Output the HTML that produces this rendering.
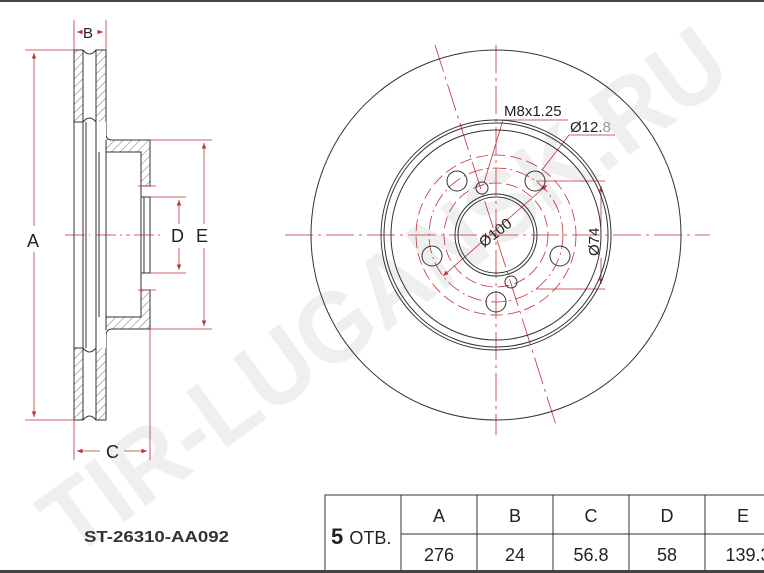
<!DOCTYPE html>
<html><head><meta charset="utf-8"><style>
html,body{margin:0;padding:0;background:#fff}
svg{display:block}
text{font-family:"Liberation Sans",Arial,sans-serif}
</style></head><body>
<svg width="764" height="573" viewBox="0 0 764 573" xmlns="http://www.w3.org/2000/svg">
<defs>
<pattern id="h" patternUnits="userSpaceOnUse" width="6" height="6" patternTransform="rotate(45)">
<rect width="6" height="6" fill="#fff"/><line x1="0" y1="0" x2="0" y2="6" stroke="#555" stroke-width="0.8"/>
</pattern>
<marker id="ar" viewBox="0 0 10 10" refX="10" refY="5" markerWidth="7" markerHeight="7" orient="auto-start-reverse"><path d="M0,1 L10,5 L0,9 z" fill="#c0303a"/></marker>
</defs>
<rect x="0" y="0" width="764" height="2" fill="#444"/>
<!-- watermark -->
<text x="0" y="0" transform="translate(72,560) rotate(-36)" font-size="100" font-weight="bold" fill="#efefef" textLength="820" lengthAdjust="spacingAndGlyphs">TIR-LUGANSK.RU</text>

<!-- side profile -->
<g stroke="#333" stroke-width="1" fill="none">
<rect x="74" y="50" width="9" height="72" fill="url(#h)"/>
<rect x="74" y="348" width="9" height="72" fill="url(#h)"/>
<path d="M96,50 H106 V122 L106,134 Q106,140 112,140 H150 V186 H141 V152 H99 L96,155 Z" fill="url(#h)"/>
<path d="M96,420 H106 V348 L106,336 Q106,329 112,329 H150 V290 H141 V317 H99 L96,314 Z" fill="url(#h)"/>
<rect x="96" y="122" width="10" height="226" fill="#fff" stroke="none"/>
<path d="M96,120 V350 M106,140 V330 M99,152 V317 M83,122 V348 M74,50 V420 M86,122 V348"/>
<path d="M83,50 Q89.5,58 96,50 M83,122 Q89.5,114 96,122 M83,348 Q89.5,356 96,348 M83,420 Q89.5,412 96,420"/>
<path d="M141,186 H150 M141,197 H150 V273 H141 Z M144,197 V273 M141,186 V197 M141,273 V290 M141,290 H150"/>
</g>
<g stroke="#c0303a" stroke-width="0.8" fill="none">
<path d="M74,20 V50 M106,20 V50 M25,50 H74 M25,420 H74 M150,140 H212 M150,329 H212 M150,197 H186 M150,273 H186 M74,420 V460 M150,329 V460 M138,186 H156 M138,290 H156"/>
<path d="M65,235 H90 M96,235 H130 M134,235 H160" stroke-dasharray="20,4,2,4"/>
<line x1="34" y1="53" x2="34" y2="226" marker-start="url(#ar)"/>
<line x1="34" y1="252" x2="34" y2="417" marker-end="url(#ar)"/>
<line x1="204" y1="143" x2="204" y2="224" marker-start="url(#ar)"/>
<line x1="204" y1="248" x2="204" y2="326" marker-end="url(#ar)"/>
<line x1="179" y1="200" x2="179" y2="224" marker-start="url(#ar)"/>
<line x1="179" y1="248" x2="179" y2="270" marker-end="url(#ar)"/>
<line x1="77" y1="32" x2="82" y2="32" marker-start="url(#ar)"/>
<line x1="98" y1="32" x2="103" y2="32" marker-end="url(#ar)"/>
<line x1="77" y1="451" x2="100" y2="451" marker-start="url(#ar)"/>
<line x1="124" y1="451" x2="147" y2="451" marker-end="url(#ar)"/>
</g>
<g font-size="18" fill="#222">
<text x="83" y="38" font-size="15">B</text>
<text x="27" y="247">A</text>
<text x="171" y="242">D</text>
<text x="196" y="242">E</text>
<text x="106" y="458">C</text>
</g>

<!-- front disc -->
<g stroke="#c0303a" stroke-width="0.8" fill="none">
<path d="M285,235 H710" stroke-dasharray="28,5,3,5"/>
<path d="M496,45 V435" stroke-dasharray="28,5,3,5"/>
<line x1="435" y1="45" x2="556" y2="425" stroke-dasharray="28,5,3,5"/>
<circle cx="496" cy="235" r="52" stroke-dasharray="12,5"/>
<circle cx="496" cy="235" r="80" stroke-dasharray="12,5"/>
<circle cx="496" cy="235" r="67" stroke-dasharray="14,4,2,4"/>
<path d="M536,181 H605 M536,289 H605"/>
<line x1="601" y1="186" x2="601" y2="226" marker-start="url(#ar)"/>
<line x1="601" y1="258" x2="601" y2="284" marker-end="url(#ar)"/>
<line x1="547" y1="185" x2="443" y2="276" marker-start="url(#ar)" marker-end="url(#ar)"/>
<path d="M503,120 H568 M503,120 L484,183" />
<path d="M569,135 H615 M569,135 L542,170"/>
</g>
<g stroke="#333" stroke-width="1" fill="none">
<circle cx="496" cy="235" r="185"/>
<circle cx="496" cy="235" r="115"/>
<circle cx="496" cy="235" r="112"/>
<circle cx="496" cy="235" r="105"/>
<circle cx="496" cy="235" r="41"/>
<circle cx="496" cy="235" r="38"/>
<circle cx="457" cy="181" r="10"/>
<circle cx="535" cy="181" r="10"/>
<circle cx="432" cy="256" r="10"/>
<circle cx="560" cy="256" r="10"/>
<circle cx="496" cy="302" r="10"/>
<circle cx="482" cy="188" r="6"/>
<circle cx="511" cy="282" r="6"/>
</g>
<g fill="#222" font-size="15">
<text x="504" y="116">M8x1.25</text>
<text x="570" y="132">Ø12.<tspan fill="#999">8</tspan></text>
<text x="0" y="0" transform="translate(484,248) rotate(-38)">Ø100</text>
<text x="0" y="0" transform="translate(599,256) rotate(-90)">Ø74</text>
</g>

<!-- part number -->
<text x="84" y="542" font-size="16" font-weight="bold" fill="#333" textLength="145" lengthAdjust="spacingAndGlyphs">ST-26310-AA092</text>

<!-- table -->
<g stroke="#333" stroke-width="1" fill="none">
<path d="M325,572 V495 H764 M401,495 V572 M477,495 V572 M553,495 V572 M629,495 V572 M705,495 V572 M401,534 H764"/>
<rect x="0" y="570" width="764" height="3" fill="#444" stroke="none"/>
</g>
<g font-size="18" fill="#222" text-anchor="middle">
<text x="439" y="522">A</text><text x="515" y="522">B</text><text x="591" y="522">C</text><text x="667" y="522">D</text><text x="743" y="522">E</text>
<text x="439" y="561">276</text><text x="515" y="561">24</text><text x="591" y="561">56.8</text><text x="667" y="561">58</text><text x="748" y="561">139.3</text>
</g>
<text x="331" y="544" font-size="22" font-weight="bold" fill="#222">5 <tspan font-size="18" font-weight="normal">ОТВ.</tspan></text>
</svg>
</body></html>
